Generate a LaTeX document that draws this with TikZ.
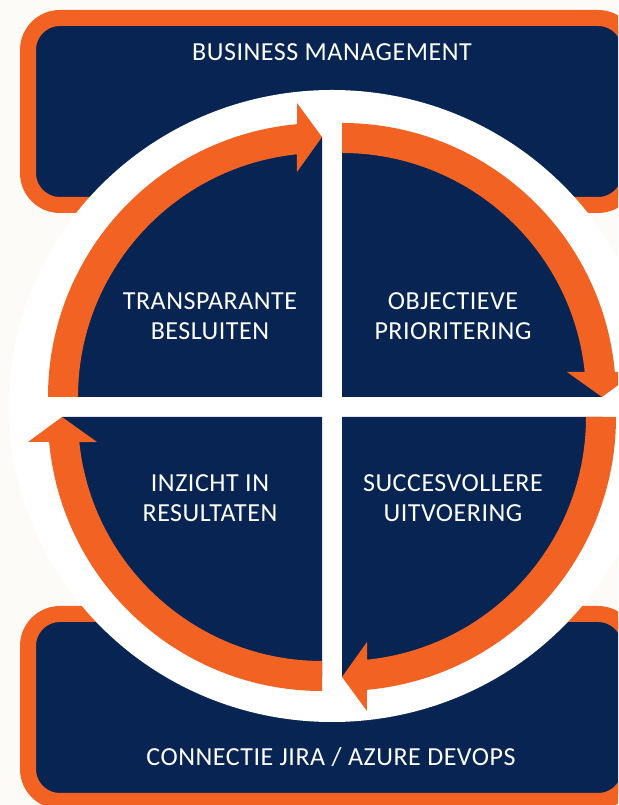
\documentclass[tikz,border=0pt]{standalone}
\usepackage{fontspec}
\setmainfont{Carlito}
\usepackage{tikz}
\usepackage{xcolor}
\definecolor{navy}{RGB}{7,36,82}
\definecolor{oranje}{RGB}{242,99,35}
\definecolor{achtergrond}{RGB}{253,251,248}

\begin{document}
\begin{tikzpicture}
	[x=1pt, y=1pt, kader/.style = {draw=oranje, fill=navy, line width=16pt, rounded corners=32pt},
	kwart/.style = {fill=navy}, pijl/.style = {fill=oranje},
	tekst/.style = {text=white, font=\fontsize{26}{30}\selectfont\addfontfeature{LetterSpace=2}, align=center}]
	\useasboundingbox (0,0) rectangle (618,805);
	\fill[achtergrond] (0,0) rectangle (618,805);
	\clip (0,0) rectangle (618,805);
	\draw[kader] (28,600) rectangle (630,787);
	\draw[kader] (28,4) rectangle (630,191);
	\fill[white] (332,399) ellipse [x radius=323, y radius=316];
	\begin{scope}[shift={(322,408)}]
		\fill[kwart] (0,0) -- (180:260) arc [start angle=180, end angle=90, radius=260] -- cycle;
		\fill[pijl] (180:244) -- (180:274) arc [start angle=180, end angle=95.2, radius=274] -- (-25,294) -- (0,260) -- (-25,225) -- (95.9:244) arc [start angle=95.9, end angle=180, radius=244] -- cycle;
	\end{scope}
	\begin{scope}[shift={(342,408)}, rotate=-90]
		\fill[kwart] (0,0) -- (180:260) arc [start angle=180, end angle=90, radius=260] -- cycle;
		\fill[pijl] (180:244) -- (180:274) arc [start angle=180, end angle=95.2, radius=274] -- (-25,294) -- (0,260) -- (-25,225) -- (95.9:244) arc [start angle=95.9, end angle=180, radius=244] -- cycle;
	\end{scope}
	\begin{scope}[shift={(342,388)}, rotate=180]
		\fill[kwart] (0,0) -- (180:260) arc [start angle=180, end angle=90, radius=260] -- cycle;
		\fill[pijl] (180:244) -- (180:274) arc [start angle=180, end angle=95.2, radius=274] -- (-25,294) -- (0,260) -- (-25,225) -- (95.9:244) arc [start angle=95.9, end angle=180, radius=244] -- cycle;
	\end{scope}
	\begin{scope}[shift={(322,388)}, rotate=90]
		\fill[kwart] (0,0) -- (180:260) arc [start angle=180, end angle=90, radius=260] -- cycle;
		\fill[pijl] (180:244) -- (180:274) arc [start angle=180, end angle=95.2, radius=274] -- (-25,294) -- (0,260) -- (-25,225) -- (95.9:244) arc [start angle=95.9, end angle=180, radius=244] -- cycle;
	\end{scope}
	\node[tekst, anchor=base] (management) at (332,744) {BUSINESS MANAGEMENT};
	\node[tekst] (transparant) at (210,489) {TRANSPARANTE\\BESLUITEN};
	\node[tekst] (prioriteit) at (453,489) {OBJECTIEVE\\PRIORITERING};
	\node[tekst] (inzicht) at (210,307) {INZICHT IN\\RESULTATEN};
	\node[tekst] (uitvoering) at (453,307) {SUCCESVOLLERE\\UITVOERING};
	\node[tekst, anchor=base] (connectie) at (331,39) {CONNECTIE JIRA / AZURE DEVOPS};
\end{tikzpicture}
\end{document}
